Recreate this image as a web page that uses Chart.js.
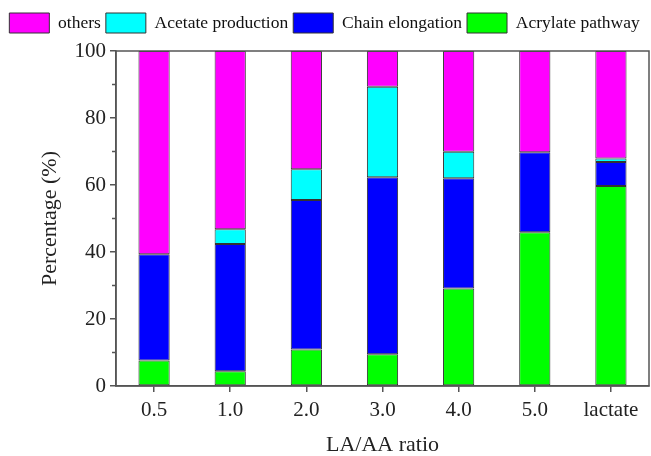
<!DOCTYPE html>
<html>
<head>
<meta charset="utf-8">
<script src="https://cdn.jsdelivr.net/npm/chart.js@4.4.1/dist/chart.umd.min.js"></script>
<style>
  html,body{margin:0;padding:0;background:#fff;}
  #wrap{width:651px;height:456px;}
</style>
</head>
<body>
<div id="wrap"><canvas id="myChart"></canvas></div>
<script>
const ratios=['0.5','1.0','2.0','3.0','4.0','5.0','lactate'];
const acrylate=[7.6,4.4,10.9,9.5,29.1,45.9,59.7];
const chainElong=[31.7,38.0,44.6,52.8,32.9,23.9,7.2];
const acetate=[0,4.4,9.2,27.0,7.9,0,1.0];
const others=[60.7,53.2,35.3,10.7,30.1,30.2,32.1];
const yTicks=[0,20,40,60,80,100];

const serif="'Liberation Serif','Times New Roman',serif";
const axisCol='#555';
const legendExtra=8;

// frame round the plot area and minor ticks on the y axis
const framePlugin={
    id:'frame',
    beforeLayout(chart){
        const lg=chart.legend;
        if(lg&&!lg._patched){
            const orig=lg.fit;
            lg.fit=function(){orig.call(this);this.height+=legendExtra;};
            lg._patched=true;
        }
    },
    afterDraw(chart){
        const c=chart.ctx,a=chart.chartArea,y=chart.scales.y;
        c.save();
        c.strokeStyle=axisCol;
        c.lineWidth=1.5;
        c.strokeRect(a.left,a.top,a.right-a.left,a.bottom-a.top);
        c.beginPath();
        for(let v=10;v<100;v+=20){
            const py=y.getPixelForValue(v);
            c.moveTo(a.left,py);
            c.lineTo(a.left-4,py);
        }
        c.stroke();
        c.restore();
    }
};

const bar=(label,data,color)=>({
    label:label,
    data:data,
    backgroundColor:color,
    borderColor:'#333',
    borderWidth:1,
    borderSkipped:false,
    barPercentage:0.41,
    categoryPercentage:1
});

new Chart(document.getElementById('myChart').getContext('2d'),{
    type:'bar',
    data:{
        labels:ratios,
        datasets:[
            bar('Acrylate pathway',acrylate,'#00ff00'),
            bar('Chain elongation',chainElong,'#0000ff'),
            bar('Acetate production',acetate,'#00ffff'),
            bar('others',others,'#ff00ff')
        ]
    },
    plugins:[framePlugin],
    options:{
        responsive:true,
        maintainAspectRatio:false,
        animation:false,
        layout:{padding:{left:0,right:2,top:8,bottom:0}},
        plugins:{
            tooltip:{enabled:false},
            legend:{
                position:'top',
                reverse:true,
                labels:{
                    font:{family:serif,size:17.5},
                    color:'#111',
                    boxWidth:40,
                    boxHeight:20,
                    padding:5
                }
            }
        },
        scales:{
            x:{
                stacked:true,
                afterFit:s=>{s.height=70;},
                grid:{display:true,offset:false,drawOnChartArea:false,color:axisCol,tickLength:6,lineWidth:1.5},
                border:{color:axisCol,width:1.5},
                ticks:{font:{family:serif,size:21},color:'#222',padding:6},
                title:{display:true,text:'LA/AA ratio',font:{family:serif,size:22,lineHeight:1},color:'#222',padding:{top:0,bottom:0}}
            },
            y:{
                stacked:true,
                min:0,max:100,
                afterBuildTicks:s=>{s.ticks=yTicks.map(v=>({value:v}));},
                afterFit:s=>{s.width=116;},
                grid:{display:true,drawOnChartArea:false,color:axisCol,tickLength:6,lineWidth:1.5},
                border:{color:axisCol,width:1.5},
                ticks:{font:{family:serif,size:21},color:'#222',padding:4},
                title:{display:true,text:'Percentage (%)',font:{family:serif,size:22,lineHeight:1},color:'#222',padding:{top:39,bottom:0}}
            }
        }
    }
});
</script>
</body>
</html>
